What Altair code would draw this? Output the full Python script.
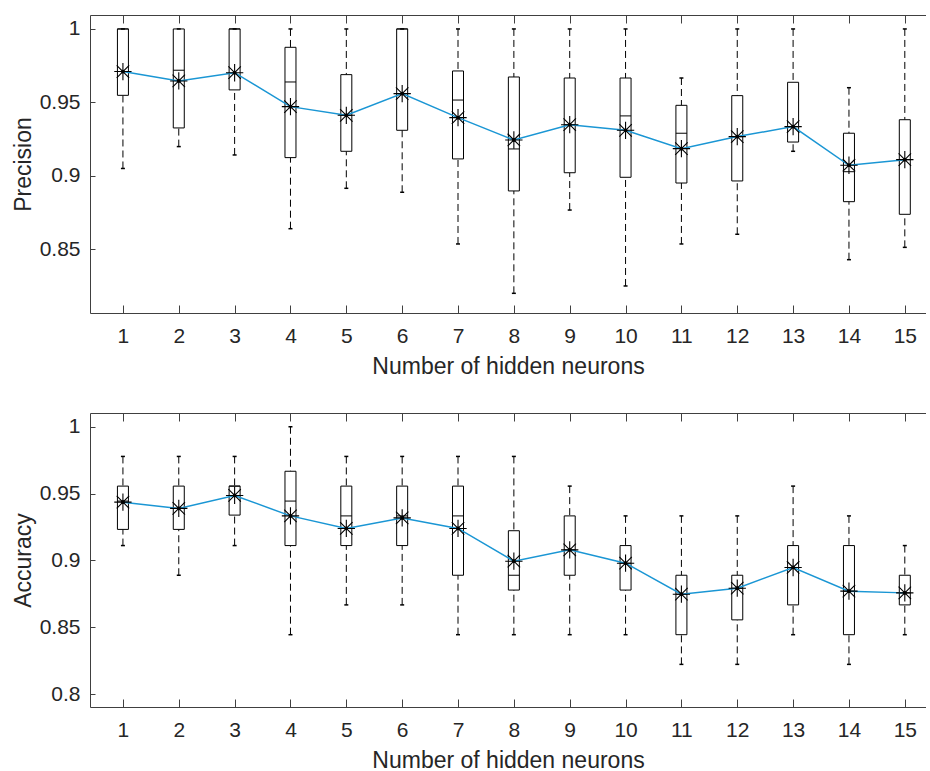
import altair as alt
import pandas as pd

neurons = list(range(1, 16))

# Precision (top panel)
p_whi = [1.0, 1.0, 1.0, 1.0, 1.0, 1.0, 1.0, 1.0, 1.0, 1.0, 0.9666, 1.0, 1.0, 0.960, 1.0]
p_q3 = [1.0, 1.0, 1.0, 0.9875, 0.9689, 1.0, 0.9714, 0.9673, 0.9666, 0.9666, 0.948, 0.9546, 0.9637, 0.929, 0.9382]
p_med = [1.0, 0.9719, 1.0, 0.9639, 0.9412, 1.0, 0.9516, 0.9183, 0.9348, 0.9408, 0.929, 0.9267, 0.9335, 0.9028, 0.911]
p_q1 = [0.9548, 0.9326, 0.9585, 0.9124, 0.9167, 0.931, 0.9115, 0.8897, 0.9021, 0.899, 0.8951, 0.8965, 0.923, 0.8824, 0.8738]
p_wlo = [0.905, 0.9199, 0.9142, 0.864, 0.8915, 0.8888, 0.8536, 0.820, 0.8767, 0.825, 0.8536, 0.8602, 0.9167, 0.8429, 0.8513]
p_mean = [0.971, 0.9646, 0.9702, 0.9471, 0.9412, 0.956, 0.9396, 0.9244, 0.9348, 0.931, 0.9185, 0.9267, 0.9335, 0.9072, 0.911]

# Accuracy (bottom panel)
a_whi = [0.9778, 0.9778, 0.9778, 1.0, 0.9778, 0.9778, 0.9778, 0.9778, 0.9556, 0.9333, 0.9333, 0.9333, 0.9556, 0.9333, 0.9111]
a_q3 = [0.9556, 0.9556, 0.9556, 0.9667, 0.9556, 0.9556, 0.9556, 0.9222, 0.9333, 0.9111, 0.8889, 0.8889, 0.9111, 0.9111, 0.8889]
a_med = [0.9444, 0.9389, 0.9556, 0.9444, 0.9333, 0.9333, 0.9333, 0.8889, 0.9079, 0.8979, 0.8747, 0.8792, 0.8947, 0.877, 0.8757]
a_q1 = [0.9232, 0.9232, 0.9339, 0.9111, 0.9111, 0.9111, 0.8889, 0.8778, 0.8889, 0.8778, 0.8444, 0.8555, 0.8667, 0.8444, 0.8667]
a_wlo = [0.9111, 0.8889, 0.9111, 0.8444, 0.8667, 0.8667, 0.8444, 0.8444, 0.8444, 0.8444, 0.8222, 0.8222, 0.8444, 0.8222, 0.8444]
a_mean = [0.9436, 0.9389, 0.9486, 0.9333, 0.9239, 0.9318, 0.9239, 0.8994, 0.9079, 0.8979, 0.8747, 0.8792, 0.8947, 0.877, 0.8757]

x_ticks = neurons
y_ticks = [0.8, 0.85, 0.9, 0.95, 1.0]

FONT = "Liberation Sans"
TXT = "#262626"
AX = "#404040"
BLUE = "#1a96d4"
STAR = "M-1,0L1,0M0,-1L0,1M-0.72,-0.72L0.72,0.72M-0.72,0.72L0.72,-0.72"
W = 836


def make_df(whi, q3, med, q1, wlo, mean):
    return pd.DataFrame({"n": neurons, "whi": whi, "q3": q3, "med": med,
                         "q1": q1, "wlo": wlo, "mean": mean})


def panel(df, ytitle, ydomain, H):
    xs = alt.Scale(domain=[0.5, 15.29], nice=False, zero=False)
    ys = alt.Scale(domain=ydomain, nice=False, zero=False)
    base = alt.Chart(df)

    x_main = alt.X("n:Q", scale=xs, axis=alt.Axis(
        orient="bottom", values=x_ticks, format="d", title="Number of hidden neurons",
        ticks=False, tickSize=0, domain=True, grid=False,
        labelPadding=12, titlePadding=9))
    y_main = alt.Y("q1:Q", scale=ys, axis=alt.Axis(
        orient="left", values=y_ticks, format=".2~f", title=ytitle,
        ticks=False, tickSize=0, domain=True, grid=False,
        labelPadding=10, titlePadding=4))

    # inward ticks on the bottom edge (top-oriented axis moved down)
    x_in_bottom = alt.X("n:Q", scale=xs, axis=alt.Axis(
        orient="top", offset=-H, values=x_ticks, labels=False, title=None,
        domain=False, ticks=True, tickSize=8, grid=False))
    # inward ticks on the left edge (right-oriented axis moved left)
    y_in_left = alt.Y("whi:Q", scale=ys, axis=alt.Axis(
        orient="right", offset=-W, values=y_ticks, labels=False, title=None,
        domain=False, ticks=True, tickSize=5, grid=False))
    # top border with inward ticks (bottom-oriented axis moved up)
    x_top = alt.X("n:Q", scale=xs, axis=alt.Axis(
        orient="bottom", offset=-H, values=x_ticks, labels=False, title=None,
        domain=True, ticks=True, tickSize=8, grid=False))

    upper = base.mark_rule(color="black", strokeWidth=1, strokeDash=[7, 4]).encode(
        x=x_in_bottom, y=y_in_left, y2="q3:Q")
    lower = base.mark_rule(color="black", strokeWidth=1, strokeDash=[7, 4]).encode(
        x=x_top, y=alt.Y("wlo:Q", scale=ys, axis=None), y2="q1:Q")
    boxes = base.mark_bar(size=11, fill="white", stroke="black", strokeWidth=1).encode(
        x=x_main, y=y_main, y2="q3:Q")
    xn = alt.X("n:Q", scale=xs, axis=None)
    medians = base.mark_tick(orient="horizontal", size=11, thickness=1, color="black", opacity=1).encode(
        x=xn, y=alt.Y("med:Q", scale=ys, axis=None))
    cap_hi = base.mark_tick(orient="horizontal", size=4, thickness=1.5, color="black", opacity=1).encode(
        x=xn, y=alt.Y("whi:Q", scale=ys, axis=None))
    cap_lo = base.mark_tick(orient="horizontal", size=4, thickness=1.5, color="black", opacity=1).encode(
        x=xn, y=alt.Y("wlo:Q", scale=ys, axis=None))
    line = base.mark_line(color=BLUE, strokeWidth=1.5).encode(
        x=xn, y=alt.Y("mean:Q", scale=ys, axis=None))
    stars = base.mark_point(shape=STAR, size=300, filled=False, stroke="black", strokeWidth=1.1, opacity=1).encode(
        x=xn, y=alt.Y("mean:Q", scale=ys, axis=None))
    dots = base.mark_point(shape="circle", filled=True, size=14, color="black", opacity=1).encode(
        x=xn, y=alt.Y("mean:Q", scale=ys, axis=None))

    return alt.layer(upper, lower, boxes, medians, cap_hi, cap_lo, line, stars, dots).resolve_axis(
        x="independent", y="independent").properties(width=W, height=H)


top = panel(make_df(p_whi, p_q3, p_med, p_q1, p_wlo, p_mean), "Precision", [0.8066, 1.0095], 298)
bottom = panel(make_df(a_whi, a_q3, a_med, a_q1, a_wlo, a_mean), "Accuracy", [0.7903, 1.0103], 294)

chart = alt.vconcat(top, bottom, spacing=34).properties(
    padding={"left": 12, "top": 14, "right": 0, "bottom": 0},
    background="white",
).configure_view(stroke=None).configure_axis(
    labelFont=FONT, titleFont=FONT, labelFontSize=21, titleFontSize=23,
    labelColor=TXT, titleColor=TXT, titleFontWeight="normal",
    domainColor=AX, tickColor=AX, domainWidth=1, tickWidth=1,
)

chart.save("out.html", embed_options={"renderer": "svg", "actions": False})
